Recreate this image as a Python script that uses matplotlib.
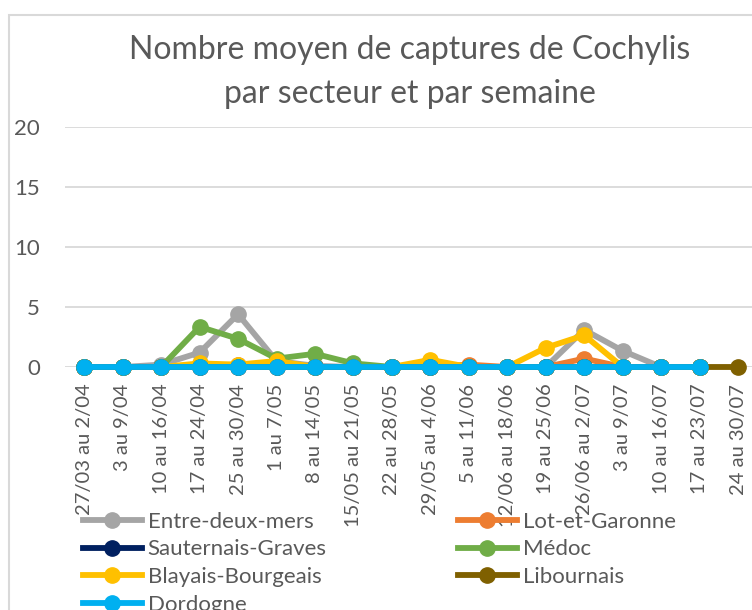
import numpy as np
import matplotlib
matplotlib.use("Agg")
import matplotlib.pyplot as plt
from matplotlib.patches import Rectangle

# ---------------------------------------------------------
# Data
# ---------------------------------------------------------
weeks = ["27/03 au 2/04", "3 au 9/04", "10 au 16/04", "17 au 24/04", "25 au 30/04",
         "1 au 7/05", "8 au 14/05", "15/05 au 21/05", "22 au 28/05", "29/05 au 4/06",
         "5 au 11/06", "12/06 au 18/06", "19 au 25/06", "26/06 au 2/07", "3 au 9/07",
         "10 au 16/07", "17 au 23/07", "24 au 30/07"]

nan = np.nan
entre_deux_mers   = [0, 0, 0.2, 1.2, 4.4, 0.5, 0.1, 0, 0, 0, 0, 0, 0, 3.1, 1.35, 0, 0, nan]
lot_et_garonne    = [0, 0, 0, 0.1, 0.2, 0.1, 0, 0, 0, 0, 0.2, 0, 0, 0.7, 0, 0, 0, nan]
sauternais_graves = [0, 0, 0, 0, 0, 0, 0, 0, 0, 0, 0, 0, 0, 0, 0, 0, 0, nan]
medoc             = [0, 0, 0, 3.35, 2.35, 0.7, 1.1, 0.3, 0, 0, 0, 0, 0, 0, 0, 0, 0, nan]
blayais_bourgeais = [0, 0, 0, 0.3, 0.2, 0.5, 0, 0, 0, 0.6, 0, 0, 1.6, 2.65, 0, 0, 0, nan]
libournais        = [0, 0, 0, 0, 0, 0, 0, 0, 0, 0, 0, 0, 0, 0, 0, 0, 0, 0]
dordogne          = [0, 0, 0, 0, 0, 0, 0, 0, 0, 0, 0, 0, 0, 0, 0, 0, 0, nan]

series = [
    ("Entre-deux-mers", entre_deux_mers, "#A5A5A5"),
    ("Lot-et-Garonne", lot_et_garonne, "#ED7D31"),
    ("Sauternais-Graves", sauternais_graves, "#002060"),
    ("Médoc", medoc, "#70AD47"),
    ("Blayais-Bourgeais", blayais_bourgeais, "#FFC000"),
    ("Libournais", libournais, "#7F6000"),
    ("Dordogne", dordogne, "#00B0F0"),
]

title = "Nombre moyen de captures de Cochylis\npar secteur et par semaine"
text_color = "#595959"
grid_color = "#D9D9D9"

plt.rcParams["font.family"] = ["Lato", "DejaVu Sans"]

# ---------------------------------------------------------
# Figure
# ---------------------------------------------------------
W, H = 752, 610
fig = plt.figure(figsize=(W / 100, H / 100), dpi=100)

# chart frame (only left and top edges are visible in the crop)
fig.patches.append(Rectangle((9 / W, -0.1), 1.2, (H - 15) / H + 0.1,
                             transform=fig.transFigure, fill=False,
                             edgecolor=grid_color, linewidth=1.5))

ax = fig.add_axes([65 / W, (H - 367) / H, (W - 65) / W, 240 / H])

x = np.arange(len(weeks))
handles = {}
for name, vals, color in series:
    line, = ax.plot(x, vals, color=color, linewidth=4.2, marker="o",
                    markersize=11, clip_on=False, label=name, zorder=3)
    handles[name] = line

ax.set_ylim(0, 20)
ax.set_xlim(-0.5, 17 + (752 - 738) / 38.5)
ax.set_yticks([0, 5, 10, 15, 20])
ax.yaxis.grid(True, color=grid_color, linewidth=1.3)
ax.set_axisbelow(True)
for s in ax.spines.values():
    s.set_visible(False)

ax.set_xticks(x)
ax.set_xticklabels(weeks, rotation=90, fontsize=14.5, color=text_color, va="top")
ax.tick_params(axis="x", length=0, pad=12)
ax.tick_params(axis="y", length=0, pad=18, labelsize=16, labelcolor=text_color)

fig.text(410 / W, 1 - 72 / H, title, ha="center", va="center",
         fontsize=23, color=text_color, linespacing=1.55)

order = ["Entre-deux-mers", "Sauternais-Graves", "Blayais-Bourgeais", "Dordogne",
         "Lot-et-Garonne", "Médoc", "Libournais"]
leg = fig.legend([handles[n] for n in order], order, ncol=2, frameon=False,
                 loc="upper left", bbox_to_anchor=(74 / W, 1 - 503 / H),
                 fontsize=16, handlelength=2.65, handletextpad=0.27,
                 labelspacing=0.34, columnspacing=5.9, borderaxespad=0)
for t in leg.get_texts():
    t.set_color(text_color)

fig.savefig("out.png", dpi=100)
